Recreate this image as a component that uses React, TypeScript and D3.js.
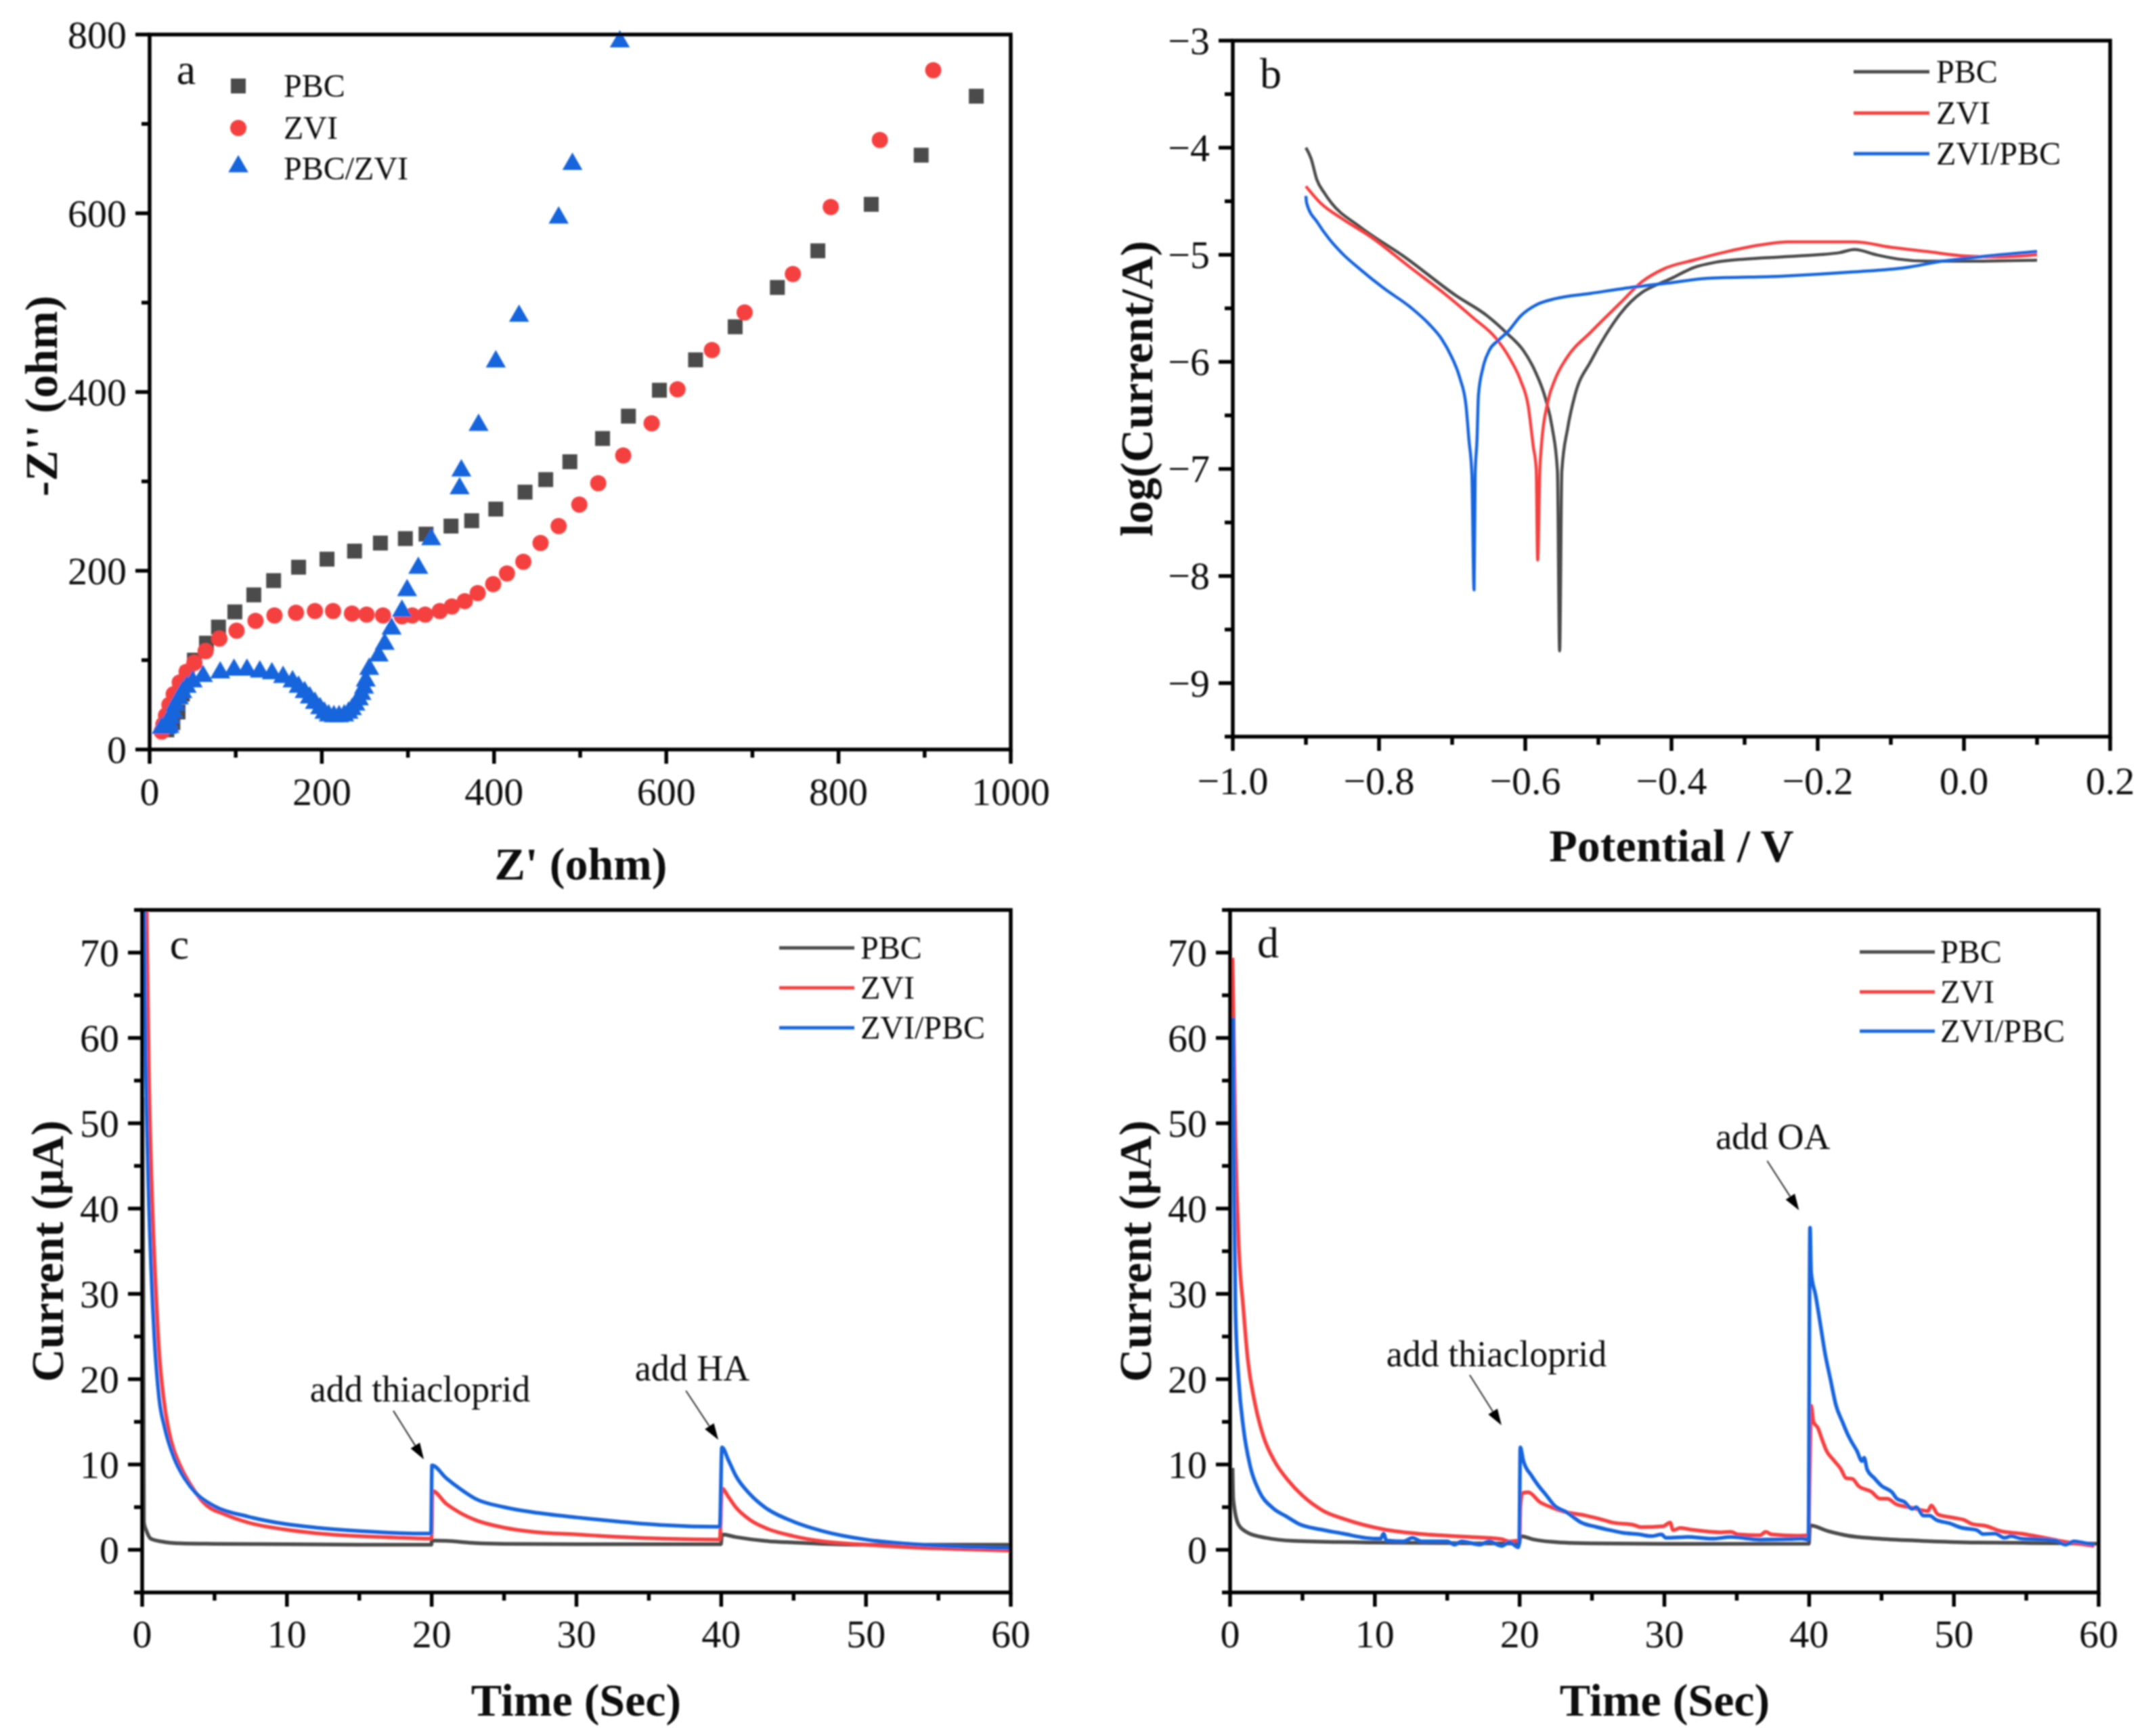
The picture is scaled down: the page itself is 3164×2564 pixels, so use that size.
import React from "react";
import * as d3 from "d3";

type P = [number, number];

const GRAY = "#4c4c4c";
const RED = "#f5403f";
const BLUE = "#1565dc";

// Panel a: Nyquist
const nyqPBC: P[] = [[20,22],[27,30],[33,42],[38,62],[44,85],[52,100],[66,119],[80,137],[99,154],[121,173],[144,189],[173,204],[206,213],[238,222],[268,231],[297,236],[321,241],[350,250],[374,256],[402,269],[436,288],[460,302],[488,322],[526,348],[556,373],[592,402],[634,436],[680,473],[729,517],[776,558],[838,610],[896,665],[960,731]];
const nyqZVI: P[] = [[14,20],[16,28],[19,38],[23,50],[28,62],[35,75],[43,87],[52,97],[65,110],[81,124],[101,133],[123,144],[145,150],[170,153],[192,155],[213,155],[235,152],[252,151],[271,150],[293,149],[305,150],[320,151],[337,155],[351,160],[366,166],[381,175],[399,185],[415,197],[434,210],[454,231],[475,250],[499,274],[521,298],[550,329],[583,365],[613,403],[653,447],[691,489],[747,532],[791,607],[848,682],[910,760]];
const nyqBlue: P[] = [[14,24],[17,24],[20,24],[23,25],[22,30],[24,36],[27,42],[30,50],[34,57],[38,64],[43,70],[50,76],[62,82],[82,86],[98,89],[113,89],[128,87],[142,85],[155,81],[166,76],[173,70],[180,64],[186,58],[192,52],[198,46],[203,41],[208,38],[214,37],[220,37],[226,38],[231,41],[235,45],[239,50],[243,56],[246,62],[249,69],[251,77],[255,90],[266,105],[273,118],[281,135],[293,155],[299,178],[312,203],[327,235],[360,292],[362,312],[382,363],[402,434],[429,485],[475,595],[491,655],[546,792]];

// Panel b: Tafel
const tafPBC: P[] = [[-0.9,-4.0],[-0.893,-4.1],[-0.885,-4.3],[-0.875,-4.42],[-0.865,-4.517],[-0.828,-4.73],[-0.763,-5.03],[-0.695,-5.38],[-0.652,-5.57],[-0.624,-5.74],[-0.603,-5.89],[-0.587,-6.08],[-0.572,-6.35],[-0.563,-6.62],[-0.556,-7.02],[-0.553,-8.7],[-0.55,-7.02],[-0.542,-6.62],[-0.532,-6.31],[-0.51,-5.99],[-0.49,-5.75],[-0.47,-5.55],[-0.44,-5.35],[-0.42,-5.28],[-0.4,-5.22],[-0.37,-5.12],[-0.34,-5.07],[-0.3,-5.04],[-0.25,-5.02],[-0.2,-5.0],[-0.17,-4.98],[-0.15,-4.95],[-0.12,-5.0],[-0.09,-5.04],[-0.05,-5.06],[0,-5.06],[0.1,-5.05]];
const tafZVI: P[] = [[-0.9,-4.36],[-0.88,-4.517],[-0.85,-4.665],[-0.812,-4.83],[-0.757,-5.12],[-0.711,-5.36],[-0.671,-5.59],[-0.64,-5.78],[-0.621,-5.97],[-0.606,-6.18],[-0.596,-6.41],[-0.589,-6.79],[-0.585,-7.0],[-0.583,-7.85],[-0.58,-7.0],[-0.578,-6.79],[-0.569,-6.37],[-0.559,-6.16],[-0.544,-5.97],[-0.51,-5.72],[-0.47,-5.45],[-0.44,-5.25],[-0.41,-5.13],[-0.37,-5.05],[-0.33,-4.98],[-0.28,-4.91],[-0.24,-4.88],[-0.15,-4.88],[-0.1,-4.93],[-0.05,-4.97],[0,-5.01],[0.05,-5.02],[0.1,-5.0]];
const tafBlue: P[] = [[-0.9,-4.45],[-0.899,-4.517],[-0.884,-4.7],[-0.868,-4.854],[-0.85,-4.99],[-0.825,-5.14],[-0.794,-5.31],[-0.757,-5.49],[-0.732,-5.644],[-0.714,-5.79],[-0.701,-5.95],[-0.689,-6.16],[-0.681,-6.41],[-0.677,-6.73],[-0.673,-7.05],[-0.67,-8.13],[-0.6685,-7.05],[-0.666,-6.73],[-0.664,-6.31],[-0.658,-6.06],[-0.649,-5.89],[-0.637,-5.8],[-0.624,-5.72],[-0.606,-5.57],[-0.584,-5.465],[-0.559,-5.41],[-0.51,-5.36],[-0.45,-5.3],[-0.4,-5.26],[-0.35,-5.22],[-0.25,-5.2],[-0.15,-5.16],[-0.08,-5.12],[-0.03,-5.06],[0.02,-5.02],[0.1,-4.97]];

// Panel c: current vs time, HA
const cPBC: P[] = [[0.02,53],[0.08,30],[0.12,3.2],[0.3,2.2],[0.6,1.3],[1.4,0.95],[2.7,0.75],[5,0.7],[10,0.65],[15,0.6],[19.98,0.6],[20.01,1.1],[21,1.05],[23,0.8],[25,0.7],[30,0.65],[35,0.65],[39.98,0.65],[40.05,1.8],[41,1.5],[43,1.05],[45,0.85],[47,0.7],[50,0.6],[55,0.6],[60,0.6]];
const cZVI: P[] = [[0.31,74.8],[0.47,55.5],[0.7,40.6],[0.94,30.7],[1.17,23.3],[1.48,17.8],[2,12.8],[2.65,9.8],[3.43,7.4],[4.2,5.6],[5.77,4.1],[7.3,3.2],[9.8,2.4],[12,1.95],[15,1.6],[18,1.4],[19.9,1.3],[20,1.4],[20.05,6.9],[21,5.4],[22,4.3],[23,3.5],[25,2.6],[27,2.1],[30,1.8],[33,1.5],[36,1.3],[39.9,1.2],[40.05,7.2],[40.5,6.2],[41,5],[42,3.5],[43,2.6],[45,1.6],[47,1],[50,0.6],[53,0.3],[56,0.1],[60,-0.1]];
const cBlue: P[] = [[0.15,75],[0.23,60.4],[0.39,45.5],[0.62,33],[0.85,24.7],[1.17,17.8],[1.56,14.3],[2.2,10.8],[2.96,8.3],[3.74,6.6],[5,5.1],[7.3,3.9],[9.8,3.05],[12,2.6],[15,2.2],[18,1.95],[19.95,1.9],[20.02,9.9],[21,8.4],[22,7.1],[23,6],[25,5],[27,4.4],[30,3.8],[33,3.3],[36,2.9],[39.9,2.7],[40.05,12],[40.5,10.5],[41,8.7],[42,6.5],[43,5],[45,3.3],[47,2.2],[50,1.2],[53,0.7],[56,0.4],[60,0.2]];

// Panel d: current vs time, OA
const dPBC: P[] = [[0.17,9.6],[0.22,5.9],[0.6,2.9],[1.23,2],[2.5,1.4],[4.35,1.05],[10,0.85],[15,0.8],[19.98,0.72],[20.05,1.6],[21,1.2],[23,0.85],[25,0.75],[30,0.7],[39.98,0.72],[40.06,2.85],[41.3,2.2],[42.7,1.65],[44.6,1.33],[47.7,1.06],[51.6,0.85],[57,0.78],[60,0.72]];
const dZVI: P[] = [[0.17,69.4],[0.37,48],[0.6,35.6],[0.92,28.2],[1.23,22.2],[1.7,17.3],[2.3,13.3],[3.1,10.3],[4.03,8.1],[4.97,6.4],[6.4,4.6],[7.9,3.6],[10.6,2.4],[13.24,1.85],[14.5,1.7],[16.6,1.5],[18.75,1.25],[19.25,1],[19.9,1.1],[20,1.2],[20.05,5],[20.2,6.65],[20.6,6.75],[21.4,5.6],[22.25,4.95],[22.9,4.55],[24.6,4],[25.9,3.45],[26.4,3.2],[27.9,2.9],[28.4,2.65],[29.9,2.75],[30.4,3.2],[30.6,2.3],[31.1,2.55],[31.9,2.35],[33.9,2.05],[34.6,2.1],[35.1,1.8],[36.6,1.7],[37,2.1],[37.4,1.8],[39.3,1.65],[39.95,1.7],[40.05,10],[40.14,16.9],[40.3,15],[40.6,14.3],[40.9,12.9],[41.2,11.6],[41.7,10.5],[42.2,9.45],[42.55,8.4],[43,8.3],[43.4,7.5],[44.3,6.8],[44.9,6],[45.4,6],[46,5.35],[46.9,5],[48.2,4.55],[48.44,5.2],[48.9,4.15],[50,3.75],[50.7,3.5],[51.3,3],[52.2,2.8],[53.2,2.2],[54.6,1.9],[56,1.5],[57.5,1],[59.7,0.45]];
const dBlue: P[] = [[0.22,62.4],[0.29,40.6],[0.37,28.2],[0.6,19.8],[0.92,14.3],[1.39,9.8],[2,6.9],[2.95,4.9],[3.9,3.9],[4.8,3],[6.2,2.4],[7.8,1.9],[9.35,1.4],[10.4,1.3],[10.6,1.9],[10.8,1.1],[12,1],[12.6,1.4],[13.2,1],[15,1],[15.5,0.6],[16,1],[17.25,0.6],[17.9,1],[18.75,0.45],[19.3,0.9],[19.9,0.3],[19.97,0.8],[20.05,12],[20.25,10.5],[20.84,8.65],[21.4,7.3],[21.84,6.4],[22.4,5.2],[23.25,4.4],[24.26,3.2],[25.26,2.7],[26.26,2.3],[27.1,2],[28.3,1.8],[29.1,1.6],[29.8,1.8],[30.1,1.4],[31.6,1.5],[33.3,1.3],[34.6,1.5],[36.6,1.2],[38.6,1.25],[39.5,1.3],[39.95,1.2],[40.06,37.75],[40.14,32.5],[40.45,29.8],[40.76,26.6],[41.08,23.2],[41.47,20],[41.86,16.9],[42.3,15],[42.7,13.4],[42.95,12.6],[43.3,11.6],[43.65,10.4],[43.8,10.8],[44,9.45],[44.5,8.4],[45,7.5],[45.75,6.7],[46.05,6],[46.6,5.6],[47.1,4.8],[47.4,5],[47.9,4],[48.3,4],[48.8,3.5],[49.7,3.1],[50.5,2.6],[51.6,2.3],[52,1.85],[52.85,1.9],[53.5,1.4],[53.95,1.6],[54.7,1.3],[55.7,1.25],[57,1.1],[57.7,0.6],[58.3,1],[59,0.8],[59.7,0.6]];

const legendScatter = ["PBC", "ZVI", "PBC/ZVI"];
const legendLines = ["PBC", "ZVI", "ZVI/PBC"];

const SERIF = "'Liberation Serif', 'Times New Roman', serif";
const TICK_FS = 58;
const LABEL_FS = 68;
const LEG_FS = 48;
const AXW = 5.5;

interface Annot { text: string; tx: number; ty: number; from: P; to: P }

interface PanelProps {
  id: string;
  box: [number, number, number, number];
  xDom: P; yDom: P;
  xMajor: number[]; xMinor: number[];
  yMajor: number[]; yMinor: number[];
  xFmt?: (v: number) => string; yFmt?: (v: number) => string;
  xLabel: string; yLabel: string;
  xLabelPos: P; yLabelPos: P;
  letter: string; letterPos: P;
  tickOffset: number;
  children: (x: d3.ScaleLinear<number, number>, y: d3.ScaleLinear<number, number>) => React.ReactNode;
  annots?: Annot[];
}

function Panel(p: PanelProps) {
  const [l, t, r, b] = p.box;
  const x = d3.scaleLinear().domain(p.xDom).range([l, r]);
  const y = d3.scaleLinear().domain(p.yDom).range([b, t]);
  const fx = p.xFmt ?? ((v: number) => String(v));
  const fy = p.yFmt ?? ((v: number) => String(v));
  return (
    <g fontFamily={SERIF} fill="#111">
      <clipPath id={p.id}><rect x={l} y={t} width={r - l} height={b - t} /></clipPath>
      <g>{p.children(x, y)}</g>
      <rect x={l} y={t} width={r - l} height={b - t} fill="none" stroke="#000" strokeWidth={AXW} />
      {p.xMajor.map((v) => <line key={"xM" + v} x1={x(v)} x2={x(v)} y1={b} y2={b + 21} stroke="#000" strokeWidth={AXW} />)}
      {p.xMinor.map((v) => <line key={"xm" + v} x1={x(v)} x2={x(v)} y1={b} y2={b + 12} stroke="#000" strokeWidth={AXW} />)}
      {p.yMajor.map((v) => <line key={"yM" + v} x1={l} x2={l - 21} y1={y(v)} y2={y(v)} stroke="#000" strokeWidth={AXW} />)}
      {p.yMinor.map((v) => <line key={"ym" + v} x1={l} x2={l - 12} y1={y(v)} y2={y(v)} stroke="#000" strokeWidth={AXW} />)}
      {p.xMajor.map((v) => <text key={"xt" + v} x={x(v)} y={b + p.tickOffset} dy="0.34em" textAnchor="middle" fontSize={TICK_FS}>{fx(v)}</text>)}
      {p.yMajor.map((v) => <text key={"yt" + v} x={l - 34} y={y(v)} dy="0.34em" textAnchor="end" fontSize={TICK_FS}>{fy(v)}</text>)}
      <text x={p.xLabelPos[0]} y={p.xLabelPos[1]} dy="0.33em" textAnchor="middle" fontSize={LABEL_FS} fontWeight="bold">{p.xLabel}</text>
      <text transform={`translate(${p.yLabelPos[0]},${p.yLabelPos[1]}) rotate(-90)`} dy="0.33em" textAnchor="middle" fontSize={LABEL_FS} fontWeight="bold">{p.yLabel}</text>
      <text x={p.letterPos[0]} y={p.letterPos[1]} textAnchor="middle" fontSize={64}>{p.letter}</text>
      {(p.annots ?? []).map((a) => {
        const x0 = x(a.from[0]), y0 = y(a.from[1]), x1 = x(a.to[0]), y1 = y(a.to[1]);
        const ang = Math.atan2(y1 - y0, x1 - x0);
        const hl = 24, hw = 8;
        const bx = x1 - hl * Math.cos(ang), by = y1 - hl * Math.sin(ang);
        const nx = -Math.sin(ang) * hw, ny = Math.cos(ang) * hw;
        return (
          <g key={a.text}>
            <text x={x(a.tx)} y={y(a.ty)} dy="0.3em" textAnchor="middle" fontSize={54}>{a.text}</text>
            <line x1={x0} y1={y0} x2={bx} y2={by} stroke="#333" strokeWidth={2} />
            <path d={`M${x1},${y1}L${bx + nx},${by + ny}L${bx - nx},${by - ny}Z`} fill="#000" />
          </g>
        );
      })}
    </g>
  );
}

function Lines({ series, x, y, clip, w }: { series: P[][]; x: any; y: any; clip: string; w: number }) {
  const line = d3.line<P>().x((d) => x(d[0])).y((d) => y(d[1])).curve(d3.curveMonotoneX);
  const cols = [GRAY, RED, BLUE];
  return (
    <g clipPath={`url(#${clip})`}>
      {series.map((s, i) => <path key={i} d={line(s) ?? ""} fill="none" stroke={cols[i]} strokeWidth={w} strokeLinejoin="round" />)}
    </g>
  );
}

function LineLegend({ x0, x1, tx, ys }: { x0: number; x1: number; tx: number; ys: number[] }) {
  const cols = [GRAY, RED, BLUE];
  return (
    <g>
      {legendLines.map((n, i) => (
        <g key={n}>
          <line x1={x0} x2={x1} y1={ys[i]} y2={ys[i]} stroke={cols[i]} strokeWidth={5} />
          <text x={tx} y={ys[i]} dy="0.33em" fontSize={LEG_FS} fill="#111" fontFamily={SERIF}>{n}</text>
        </g>
      ))}
    </g>
  );
}

const tri = d3.symbol().type(d3.symbolTriangle).size(380);
const Square = ({ cx, cy, c }: { cx: number; cy: number; c: string }) => <rect x={cx - 11} y={cy - 11} width={22} height={22} fill={c} />;
const Dot = ({ cx, cy, c }: { cx: number; cy: number; c: string }) => <circle cx={cx} cy={cy} r={12} fill={c} />;
const Tri = ({ cx, cy, c }: { cx: number; cy: number; c: string }) => <path transform={`translate(${cx},${cy})`} d={tri() ?? ""} fill={c} />;

const seq = (a: number, b: number, s: number) => d3.range(0, Math.round((b - a) / s) + 1).map((i) => +(a + i * s).toFixed(4));
const minus = (v: number, dec: number) => (v < 0 ? "\u2212" : "") + Math.abs(v).toFixed(dec);

const timeXMajor = seq(0, 60, 10);
const timeXMinor = seq(5, 55, 10);
const curYMajor = seq(0, 70, 10);
const curYMinor = seq(-5, 75, 10);

export default function App() {
  return (
    <svg width={3164} height={2564} viewBox="0 0 3164 2564" style={{ position: "absolute", left: 0, top: 0, display: "block", background: "#fff" }}>
      <defs>
        <filter id="soft" filterUnits="userSpaceOnUse" x={0} y={0} width={3164} height={2564}>
          <feGaussianBlur stdDeviation={0.9} />
        </filter>
      </defs>
      <g filter="url(#soft)">
      <Panel id="pa" box={[221, 51, 1493, 1107]} xDom={[0, 1000]} yDom={[0, 800]}
        xMajor={seq(0, 1000, 200)} xMinor={seq(100, 900, 200)} yMajor={seq(0, 800, 200)} yMinor={seq(100, 700, 200)}
        xLabel="Z' (ohm)" yLabel="-Z'' (ohm)" xLabelPos={[858, 1277]} yLabelPos={[62, 585]}
        letter="a" letterPos={[275, 124]} tickOffset={62}>
        {(x, y) => (
          <g>
            {nyqPBC.map((d, i) => <Square key={i} cx={x(d[0])} cy={y(d[1])} c={GRAY} />)}
            {nyqZVI.map((d, i) => <Dot key={i} cx={x(d[0])} cy={y(d[1])} c={RED} />)}
            {nyqBlue.map((d, i) => <Tri key={i} cx={x(d[0])} cy={y(d[1])} c={BLUE} />)}
            {legendScatter.map((n, i) => {
              const ly = [127, 189, 249][i];
              return (
                <g key={n}>
                  {i === 0 && <Square cx={352} cy={ly} c={GRAY} />}
                  {i === 1 && <Dot cx={352} cy={ly} c={RED} />}
                  {i === 2 && <Tri cx={352} cy={ly - 3} c={BLUE} />}
                  <text x={419} y={ly} dy="0.33em" fontSize={LEG_FS}>{n}</text>
                </g>
              );
            })}
          </g>
        )}
      </Panel>

      <Panel id="pb" box={[1821, 60, 3117, 1088]} xDom={[-1, 0.2]} yDom={[-9.5, -3]}
        xMajor={seq(-1, 0.2, 0.2)} xMinor={seq(-0.9, 0.1, 0.2)} yMajor={seq(-9, -3, 1)} yMinor={seq(-9.5, -3.5, 1)}
        xFmt={(v) => minus(v, 1)} yFmt={(v) => minus(v, 0)}
        xLabel="Potential / V" yLabel="log(Current/A)" xLabelPos={[2469, 1250]} yLabelPos={[1680, 574]}
        letter="b" letterPos={[1877, 130]} tickOffset={65}>
        {(x, y) => (
          <g>
            <Lines series={[tafPBC, tafZVI, tafBlue]} x={x} y={y} clip="pb" w={4.5} />
            <LineLegend x0={2738} x1={2850} tx={2860} ys={[106, 167, 227]} />
          </g>
        )}
      </Panel>

      <Panel id="pc" box={[210, 1344, 1493, 2352]} xDom={[0, 60]} yDom={[-5, 75]}
        xMajor={timeXMajor} xMinor={timeXMinor} yMajor={curYMajor} yMinor={curYMinor}
        xLabel="Time (Sec)" yLabel="Current (μA)" xLabelPos={[851, 2512]} yLabelPos={[71, 1848]}
        letter="c" letterPos={[265, 1416]} tickOffset={61}
        annots={[
          { text: "add thiacloprid", tx: 19.2, ty: 18.65, from: [17.35, 16.3], to: [19.46, 10.6] },
          { text: "add HA", tx: 38.0, ty: 21.1, from: [37.56, 18.65], to: [39.8, 12.9] },
        ]}>
        {(x, y) => (
          <g>
            <Lines series={[cPBC, cZVI, cBlue]} x={x} y={y} clip="pc" w={5.5} />
            <LineLegend x0={1151} x1={1262} tx={1271} ys={[1400, 1459, 1518]} />
          </g>
        )}
      </Panel>

      <Panel id="pd" box={[1817, 1344, 3100, 2352]} xDom={[0, 60]} yDom={[-5, 75]}
        xMajor={timeXMajor} xMinor={timeXMinor} yMajor={curYMajor} yMinor={curYMinor}
        xLabel="Time (Sec)" yLabel="Current (μA)" xLabelPos={[2459, 2512]} yLabelPos={[1678, 1848]}
        letter="d" letterPos={[1873, 1414]} tickOffset={61}
        annots={[
          { text: "add thiacloprid", tx: 18.4, ty: 22.8, from: [16.55, 20.5], to: [18.75, 14.6] },
          { text: "add OA", tx: 37.5, ty: 48.25, from: [37.1, 45.6], to: [39.3, 39.8] },
        ]}>
        {(x, y) => (
          <g>
            <Lines series={[dPBC, dZVI, dBlue]} x={x} y={y} clip="pd" w={5.5} />
            <LineLegend x0={2747} x1={2858} tx={2866} ys={[1406, 1465, 1523]} />
          </g>
        )}
      </Panel>
      </g>
    </svg>
  );
}
